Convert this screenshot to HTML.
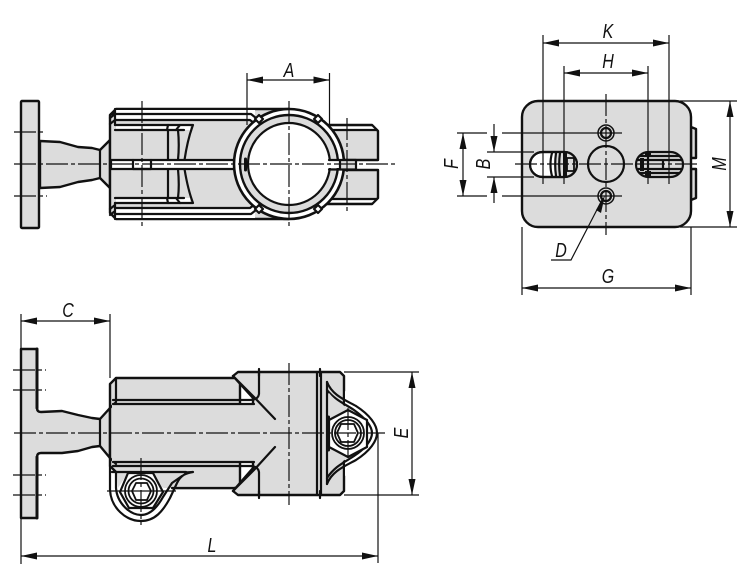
<!DOCTYPE html>
<html><head><meta charset="utf-8"><style>
html,body{margin:0;padding:0;background:#fff}
svg{display:block}
text{font-family:"Liberation Sans",sans-serif;font-style:italic;font-size:20px;fill:#111;text-anchor:middle}
.o{fill:none;stroke:#111;stroke-width:2.2;stroke-linejoin:round;stroke-linecap:round}
.f{fill:#dcdcdc;stroke:#111;stroke-width:2.4;stroke-linejoin:round}
.w{fill:#fff;stroke:#111;stroke-width:2.2;stroke-linejoin:round}
.t{fill:none;stroke:#111;stroke-width:1.2}
.c{fill:none;stroke:#111;stroke-width:1.2;stroke-dasharray:22 3 4 3}
.d{fill:none;stroke:#111;stroke-width:1.2;marker-start:url(#as);marker-end:url(#ae)}
.n{fill:#dcdcdc;stroke:none}
.nw{fill:#fff;stroke:none}
</style></head><body>
<svg width="750" height="577" viewBox="0 0 750 577" xmlns="http://www.w3.org/2000/svg">
<defs>
<marker id="ae" markerUnits="userSpaceOnUse" markerWidth="17" markerHeight="8" refX="16" refY="4" orient="auto"><path d="M0 .5L16 4L0 7.5z" fill="#111"/></marker>
<marker id="as" markerUnits="userSpaceOnUse" markerWidth="17" markerHeight="8" refX="0" refY="4" orient="auto"><path d="M16 .5L0 4L16 7.5z" fill="#111"/></marker>
</defs>

<!-- TOP VIEW -->
<rect class="f" x="21" y="101" width="18" height="127" rx="1"/>
<path class="f" d="M40 141L60 142L78 147L92 148L100 150L110 140V188L100 178L92 180L78 182L60 187L40 188z"/>
<path class="o" d="M100 150V178"/>
<!-- right tail -->
<path class="f" d="M325 125H372L378 131V160H325z"/>
<path class="f" d="M325 170H378V198L372 204H325z"/>
<path class="nw" d="M331 126.500H372L375.500 130H331zM331 199H375.500L372 202.500H331z"/>
<path class="o" d="M330 130H377M330 199H377"/>
<!-- body -->
<path class="f" d="M116 109H289V219H116L110 213V115z"/>
<path class="nw" d="M116 110H255V120H116zM116 208H255V218H116zM116 125H190V130H116zM116 198H190V203H116z"/>
<path class="o" d="M111 114H251L256 118M116 120H250L255 124M116 214H251L256 210M116 208H250L255 204"/>
<path class="o" d="M115 125H193C188 138 186 150 184.500 160M115 130H184M115 203H193C188 190 186 178 184.500 169M115 198H184"/>
<path class="o" d="M115 109V125M115 203V219M110 118L115 114M110 124L115 120M110 209L115 205M110 215L115 211"/>
<path class="o" d="M180 125L176 130M168 125L167 130M180 203L176 198M168 203L167 198M168 130V160M178 130C179 140 179 150 178 160M168 169V198M178 169C179 180 179 190 178 198"/>
<path class="w" d="M111 160H240V169H111z"/>
<path class="o" d="M133 160V169H151V160" />
<!-- ring -->
<circle class="w" cx="289" cy="164" r="55" style="stroke-width:2.6"/>
<circle class="f" cx="289" cy="164" r="49"/>
<circle class="w" cx="289" cy="164" r="41"/>
<path class="nw" d="M326 161H340V168H326z"/>
<path class="n" d="M340 161H355V169H340z"/>
<path class="o" d="M329 160H356M329 169.500H356M356 160V169.500M340 160V169.500"/>
<path class="o" d="M245.500 159V170" style="stroke-width:3"/>
<path class="w" d="M259 115L263 119L259 123L255 119z"/><path class="w" d="M318 115L322 119L318 123L314 119z"/><path class="w" d="M259 205L263 209L259 213L255 209z"/><path class="w" d="M318 205L322 209L318 213L314 209z"/>
<path class="c" d="M14 164H395"/>
<path class="c" d="M142 101V226"/><path class="c" d="M347 118V212"/><path class="c" d="M289 101V228"/>
<path class="c" d="M14 132H46M14 196H47"/>
<path class="t" d="M247 73V125M329.500 73V125"/>
<path class="d" d="M247 80H329.500"/>
<text transform="translate(289 77) scale(.8 1)">A</text>

<!-- RIGHT VIEW -->
<path class="f" d="M691 127L696 129V158H691zM691 169H696V198L691 200z"/>
<rect class="f" x="522" y="101" width="169" height="126" rx="16"/>
<rect class="w" x="530" y="152" width="47" height="25" rx="12.500"/>
<path class="n" d="M556 153H566A11.500 11.500 0 0 1 566 176H556z"/>
<rect class="o" x="530" y="152" width="47" height="25" rx="12.500"/>
<path class="o" d="M552 153C550 160 550 169 552 176M556 153C555 160 555 169 556 176M560 153C559 160 559 169 560 176"/>
<path d="M563 153H567V176H563z" fill="#111"/>
<rect x="567" y="158" width="7" height="13" fill="none" stroke="#111" stroke-width="1.800"/>
<rect class="w" x="636" y="152" width="47" height="25" rx="12.500" style="fill:#dcdcdc"/>
<path class="o" d="M640 156H679M638 160H682M638 169H682M640 173H679M663 160V169M648 153V176"/>
<path d="M645 152H651V156H645zM645 171H651V177H645zM640 158H644V171H640z" fill="#111"/>
<circle class="w" cx="606" cy="164" r="18" style="fill:#dcdcdc"/>
<circle class="o" cx="606" cy="133" r="8" style="stroke-width:1.500"/><circle class="w" cx="606" cy="133" r="5" style="fill:#dcdcdc"/>
<circle class="o" cx="606" cy="196" r="8" style="stroke-width:1.500"/><circle class="w" cx="606" cy="196" r="5" style="fill:#dcdcdc"/>
<path class="c" d="M606 94V235"/>
<path class="c" d="M515 164H700"/>
<path class="t" d="M502 133H622M502 196H622"/>
<path class="t" d="M543 35V184M669 35V184M564 66V184M648 66V184"/>
<path class="d" d="M543 43H669"/>
<path class="d" d="M564 73H648"/>
<text transform="translate(608 38) scale(.8 1)">K</text><text transform="translate(608 68) scale(.8 1)">H</text>
<path class="t" d="M457 133H487M457 196H487M487 152H534M487 177H534"/>
<path class="d" d="M463 133V196"/>
<path class="t" d="M494 124V152M494 177V203"/>
<path d="M494 152L490.500 136H497.500zM494 177L490.500 193H497.500z" fill="#111"/>
<text transform="translate(458 164) rotate(-90) scale(.8 1)">F</text>
<text transform="translate(490 164) rotate(-90) scale(.8 1)">B</text>
<path class="t" d="M680 101H737M680 227H737"/>
<path class="d" d="M730 101V227"/>
<text transform="translate(726 164) rotate(-90) scale(.8 1)">M</text>
<path class="t" d="M522 227V295M691 227V295"/>
<path class="d" d="M522 288H691"/>
<text transform="translate(608 283) scale(.8 1)">G</text>
<path class="t" d="M603 198L571 260H551"/>
<path d="M605 195L596 210L601 213z" fill="#111"/>
<text transform="translate(561 257) scale(.8 1)">D</text>

<!-- FRONT VIEW -->
<path class="f" d="M21 349H37V408Q37 412 41 412L62 411L78 415L92 418L100 419L110 408V458L100 446L92 447L78 451L62 453H41Q37 453 37 457V518H21z"/>
<path class="o" d="M37 349V408M37 457V518" style="stroke-width:3"/>
<path class="o" d="M100 419V446"/>
<!-- left body -->
<path class="f" d="M110 384L116 378H240V488H172L116 472L110 466z"/>
<path class="o" d="M116 378V402M116 405V462M110 408L116 402M110 458L116 464"/>
<!-- block -->
<path class="f" d="M233 376L238 372H340L344 376V491L340 495H238L233 491L253 468V398z"/>
<path class="n" d="M112 403H258V463H112z"/>
<path class="o" d="M113 400H250Q258 400 259 394V372M113 404H254M113 462H254M113 466H250Q258 466 259 472V495"/>
<path class="o" d="M233 376L254 397L275 419M233 491L254 470L275 447"/>
<path class="o" d="M317 372V495M321 372V495M259 369V376M320 369V376M259 491V498M320 491V498" />
<!-- right lug -->
<path class="nw" d="M345 391L362 404L377 433L362 462L345 476z"/>
<path class="o" d="M327 382C332 395 345 400 356 406C370 415 377 425 377 433C377 441 370 451 356 460C345 466 332 471 327 484"/>
<path class="o" d="M327 390C335 400 345 404 354 410C365 418 372 426 372 433C372 440 365 449 354 456C345 462 335 466 327 478"/>
<path class="n" d="M329 393C336 402 345 406 353 411L344 433L353 455C345 460 336 464 329 473z"/>
<path class="o" d="M327 382V484"/>
<path class="o" d="M328.500 417V450" style="stroke-width:3"/>
<path class="w" d="M348 410L367 420V447L348 457L329 447V420z"/>
<circle class="o" cx="348" cy="433" r="16" style="stroke-width:1.800"/><circle class="o" cx="348" cy="433" r="13" style="stroke-width:1.800"/>
<path class="w" d="M341 424H354L358 433L354 442H341L337 433z" style="stroke-width:1.800"/>
<!-- hook -->
<path class="nw" d="M108 472H172V488L160 510L141 524L112 510z"/>
<path class="n" d="M117 473H190L172 488H164L128 473L118 488zM172 473H234V488H172z"/>
<path class="o" d="M110 466V490C111 508 126 521 141 521C155 521 163 511 170 498L177 483C181 475 186 473 193 472L185 472.500"/>
<path class="o" d="M116 473V488C117 503 130 515 141 515C151 515 158 506 163 497L172 483L182 476"/>
<path class="o" d="M112 472H186M172 488H234"/>
<path class="w" d="M128 473H153L163 492L153 508H129L120 492z"/>
<circle class="o" cx="141" cy="491" r="16" style="stroke-width:1.800"/><circle class="o" cx="141" cy="491" r="12.500" style="stroke-width:1.800"/>
<path class="w" d="M136 483H147L151 491L147 500H136L132 491z" style="stroke-width:1.800"/>
<path class="c" d="M14 433H385"/>
<path class="c" d="M13 370H46M13 390H46M13 475H46M13 495H46"/>
<path class="c" d="M289 363V505"/><path class="c" d="M141 458V525"/><path class="c" d="M348 408V458"/>
<path class="t" d="M107 491H176"/>
<path class="t" d="M21 314V349M110 314V378"/>
<path class="d" d="M21 321H110"/>
<text transform="translate(68 317) scale(.8 1)">C</text>
<path class="t" d="M21 518V564M378 433V563"/>
<path class="d" d="M21 556H378"/>
<text transform="translate(212 552) scale(.8 1)">L</text>
<path class="t" d="M344 372H419M344 495H419"/>
<path class="d" d="M412 372V495"/>
<text transform="translate(408 433) rotate(-90) scale(.8 1)">E</text>
</svg>
</body></html>
